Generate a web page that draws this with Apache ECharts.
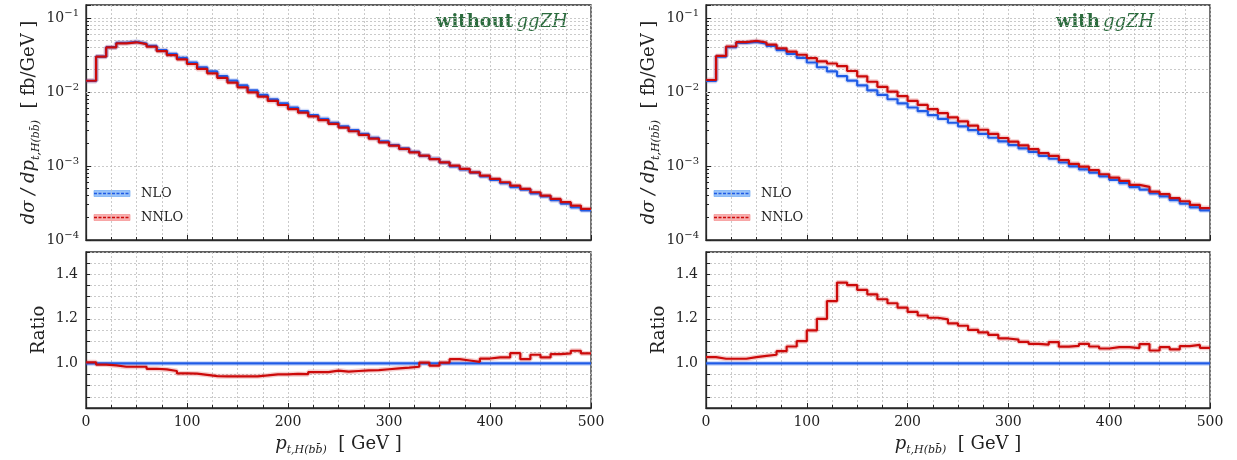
<!DOCTYPE html>
<html>
<head>
<meta charset="utf-8">
<script src="https://cdn.jsdelivr.net/npm/echarts@6/dist/echarts.min.js"></script>
<style>
html, body { margin: 0; background: #fff; }
#main { width: 1237px; height: 460px; }
</style>
</head>
<body>
<div id="main"></div>
<script>
// bin edges in GeV (10 GeV bins)
const binEdges = [0,10,20,30,40,50,60,70,80,90,100,110,120,130,140,150,160,170,180,190,200,
  210,220,230,240,250,260,270,280,290,300,310,320,330,340,350,360,370,380,390,400,
  410,420,430,440,450,460,470,480,490,500];

// dsigma/dpt [fb/GeV]
const nloXsec = [0.01413,0.03015,0.04036,0.04619,0.04772,0.04518,0.04201,0.03679,0.03271,0.02901,
  0.02505,0.0216,0.01898,0.01645,0.01423,0.01227,0.01051,0.00914,0.00798,0.00702,
  0.00618,0.00551,0.00487,0.00434,0.00384,0.00344,0.00305,0.00271,0.00241,0.00215,
  0.00192,0.00173,0.00155,0.001375,0.001253,0.001116,0.000991,0.0009,0.000816,0.000725,
  0.00065,0.000587,0.000519,0.000481,0.000425,0.000388,0.000345,0.00031,0.000276,0.000252];
const nnloNoGG = [0.0142,0.03,0.04,0.0455,0.047,0.0445,0.041,0.0358,0.0316,0.0277,
  0.0239,0.0205,0.0179,0.0155,0.0134,0.01156,0.0099,0.00865,0.00759,0.00668,
  0.00589,0.00525,0.00468,0.00417,0.00372,0.00331,0.00295,0.00263,0.00234,0.00209,
  0.00188,0.0017,0.00153,0.00138,0.00124,0.00112,0.00101,0.000912,0.000822,0.000741,
  0.000668,0.000603,0.000543,0.00049,0.000442,0.000398,0.000359,0.000324,0.000292,0.000263];
const nnloGG = [0.01453,0.03078,0.04121,0.04716,0.04906,0.04672,0.04365,0.03881,0.0352,0.03191,
  0.02876,0.02592,0.02429,0.02242,0.01922,0.01632,0.01377,0.01177,0.01013,0.00878,
  0.00761,0.00669,0.00587,0.0052,0.00453,0.00402,0.00351,0.00309,0.00272,0.00239,
  0.00213,0.0019,0.00169,0.00149,0.001373,0.0012,0.001069,0.000979,0.000878,0.000774,
  0.000697,0.00063,0.000555,0.000523,0.00045,0.000416,0.000367,0.000334,0.000299,0.00027];

// ratios to NLO
const ratioNLO = [1,1,1,1,1,1,1,1,1,1, 1,1,1,1,1,1,1,1,1,1, 1,1,1,1,1,1,1,1,1,1,
  1,1,1,1,1,1,1,1,1,1, 1,1,1,1,1,1,1,1,1,1];
const ratioNoGG = [1.005,0.995,0.991,0.985,0.985,0.985,0.976,0.973,0.966,0.955,
  0.954,0.949,0.943,0.942,0.942,0.942,0.942,0.946,0.951,0.951,
  0.953,0.952,0.961,0.961,0.968,0.963,0.966,0.969,0.970,0.974,
  0.978,0.981,0.985,1.004,0.990,1.004,1.019,1.013,1.007,1.022,
  1.027,1.027,1.046,1.019,1.039,1.027,1.042,1.045,1.057,1.045];
const ratioGG = [1.028,1.021,1.021,1.021,1.028,1.034,1.039,1.055,1.076,1.100,
  1.148,1.200,1.280,1.363,1.351,1.330,1.310,1.288,1.270,1.250,
  1.231,1.215,1.205,1.198,1.180,1.169,1.151,1.139,1.128,1.112,
  1.107,1.097,1.088,1.084,1.096,1.075,1.079,1.088,1.076,1.067,
  1.073,1.073,1.069,1.087,1.058,1.073,1.063,1.078,1.083,1.070];

// minor log grid positions
const logMinor = [2e-4,3e-4,4e-4,5e-4,6e-4,7e-4,8e-4,9e-4,
  2e-3,3e-3,4e-3,5e-3,6e-3,7e-3,8e-3,9e-3,
  2e-2,3e-2,4e-2,5e-2,6e-2,7e-2,8e-2,9e-2];
const ratioLabels = ['1.0', '1.2', '1.4'];

const BLUE = '#1f5be6', RED = '#cc0a0a', GREEN = '#2b6b3d';
const FONT = "'DejaVu Serif', serif";
const gridLine = { color: '#bdbdbd', width: 0.8, type: [2, 2] };

// histogram as step line: value of bin i held from edge i to edge i+1
const steps = vals => binEdges.map((x, i) => [x, vals[Math.min(i, vals.length - 1)]]);

const myChart = echarts.init(document.getElementById('main'));

const grids = [
  { left: 86, top: 5, width: 505, height: 235 },
  { left: 86, top: 252, width: 505, height: 156 },
  { left: 706, top: 5, width: 504, height: 235 },
  { left: 706, top: 252, width: 504, height: 156 }
].map(g => Object.assign(g, { show: true, borderColor: '#2a2a2a', borderWidth: 1.3 }));

const xAxisOf = (gi, labels) => ({
  type: 'value', gridIndex: gi, min: 0, max: 500, interval: 100,
  axisLine: { show: true, onZero: false, lineStyle: { color: '#2a2a2a', width: 1.3 } },
  axisTick: { show: true, inside: true, length: 5, lineStyle: { color: '#222' } },
  minorTick: { show: true, splitNumber: 4, length: 3, lineStyle: { color: '#222' } },
  splitLine: { show: true, lineStyle: gridLine },
  minorSplitLine: { show: true, lineStyle: gridLine },
  axisLabel: { show: labels, color: '#222', fontFamily: FONT, fontSize: 14, margin: 7 },
  name: labels ? '{i|p}{s|t,H(bb\u0304)}{r|  [ GeV ]}' : '',
  nameLocation: 'middle', nameGap: 24,
  nameTextStyle: {
    color: '#222', fontFamily: FONT,
    rich: {
      i: { fontFamily: FONT, fontStyle: 'italic', fontSize: 18, lineHeight: 24, color: '#222' },
      s: { fontFamily: FONT, fontStyle: 'italic', fontSize: 11, lineHeight: 12, verticalAlign: 'bottom', color: '#222' },
      r: { fontFamily: FONT, fontSize: 18, lineHeight: 24, color: '#222' }
    }
  }
});

const logAxisOf = gi => ({
  type: 'log', logBase: 10, gridIndex: gi, min: 1e-4, max: 0.15,
  axisLine: { show: true, onZero: false, lineStyle: { color: '#2a2a2a', width: 1.3 } },
  axisTick: { show: true, inside: true, length: 5, lineStyle: { color: '#222' } },
  splitLine: { show: true, lineStyle: gridLine },
  axisLabel: {
    color: '#222', margin: 7,
    formatter: v => {
      const e = Math.log10(v);
      if (Math.abs(e - Math.round(e)) > 1e-6) return '';
      return '{a|10}{e|\u2212' + Math.abs(Math.round(e)) + '}';
    },
    rich: {
      a: { fontFamily: FONT, fontSize: 14, lineHeight: 20, color: '#222' },
      e: { fontFamily: FONT, fontSize: 10, lineHeight: 12, verticalAlign: 'top', color: '#222' }
    }
  },
  name: '{i|d\u03c3 / dp}{s|t,H(bb\u0304)}{r|  [ fb/GeV ]}',
  nameLocation: 'middle', nameRotate: 90, nameGap: 44,
  nameTextStyle: {
    color: '#222',
    rich: {
      i: { fontFamily: FONT, fontStyle: 'italic', fontSize: 18, lineHeight: 26, color: '#222' },
      s: { fontFamily: FONT, fontStyle: 'italic', fontSize: 11, lineHeight: 12, verticalAlign: 'bottom', color: '#222' },
      r: { fontFamily: FONT, fontSize: 18, lineHeight: 26, color: '#222' }
    }
  }
});

const ratioAxisOf = gi => ({
  type: 'value', gridIndex: gi, min: 0.8, max: 1.5, interval: 0.05,
  axisLine: { show: true, onZero: false, lineStyle: { color: '#2a2a2a', width: 1.3 } },
  axisTick: { show: true, inside: true, length: 4, lineStyle: { color: '#222' } },
  splitLine: { show: true, lineStyle: gridLine },
  axisLabel: {
    color: '#222', fontFamily: FONT, fontSize: 14, margin: 8,
    formatter: v => {
      const s = v.toFixed(1);
      return (Math.abs(v - Number(s)) < 1e-6 && ratioLabels.includes(s)) ? s : '';
    }
  },
  name: 'Ratio', nameLocation: 'middle', nameRotate: 90, nameGap: 38,
  nameTextStyle: { color: '#222', fontFamily: FONT, fontSize: 18 }
});

// minor log grid lines and minor ticks on the left axis
const logMarks = () => ({
  silent: true, symbol: ['none', 'none'], animation: false, z: 1,
  label: { show: false },
  emphasis: { disabled: true },
  data: logMinor.map(v => ({ yAxis: v, lineStyle: gridLine }))
    .concat(logMinor.map(v => [
      { coord: [0, v], lineStyle: { color: '#222', width: 1, type: 'solid' } },
      { coord: [3, v] }
    ]))
});

const stepSeries = (gi, vals, color, extra) => ([
  {
    type: 'line', xAxisIndex: gi, yAxisIndex: gi, step: 'end', data: steps(vals),
    symbol: 'none', silent: true, z: 2,
    lineStyle: { color: color, width: 5, opacity: 0.2 }
  },
  Object.assign({
    type: 'line', xAxisIndex: gi, yAxisIndex: gi, step: 'end', data: steps(vals),
    symbol: 'none', silent: true, z: 3,
    lineStyle: { color: color, width: 2.2 }
  }, extra || {})
]);

const legendGraphic = (x0) => {
  const items = [
    { label: 'NLO', fill: 'rgba(120,175,245,0.75)', line: BLUE, y: 193.5 },
    { label: 'NNLO', fill: 'rgba(245,150,150,0.75)', line: RED, y: 217.5 }
  ];
  const els = [];
  items.forEach(it => {
    els.push({ type: 'rect', shape: { x: x0 + 8, y: it.y - 3, width: 36, height: 6 },
      style: { fill: it.fill, stroke: it.fill, lineWidth: 1 } });
    els.push({ type: 'line', shape: { x1: x0 + 8, y1: it.y, x2: x0 + 44, y2: it.y },
      style: { stroke: it.line, lineWidth: 1.5, lineDash: [3, 1.5] } });
    els.push({ type: 'text', x: x0 + 55, y: it.y,
      style: { text: it.label, fill: '#222', font: "13px 'DejaVu Serif', serif", verticalAlign: 'middle' } });
  });
  return els;
};

const titleGraphic = (x, word) => ({
  type: 'text', x: x, y: 22,
  style: {
    text: '{b|' + word + '} {i|ggZH}', verticalAlign: 'middle',
    rich: {
      b: { fontFamily: FONT, fontWeight: 'bold', fontSize: 18, fill: GREEN },
      i: { fontFamily: FONT, fontStyle: 'italic', fontSize: 18, fill: GREEN }
    }
  }
});

const series = []
  .concat(stepSeries(0, nloXsec, BLUE, { markLine: logMarks() }))
  .concat(stepSeries(0, nnloNoGG, RED))
  .concat(stepSeries(1, ratioNLO, BLUE))
  .concat(stepSeries(1, ratioNoGG, RED))
  .concat(stepSeries(2, nloXsec, BLUE, { markLine: logMarks() }))
  .concat(stepSeries(2, nnloGG, RED))
  .concat(stepSeries(3, ratioNLO, BLUE))
  .concat(stepSeries(3, ratioGG, RED));

myChart.setOption({
  backgroundColor: '#fff',
  animation: false,
  grid: grids,
  xAxis: [xAxisOf(0, false), xAxisOf(1, true), xAxisOf(2, false), xAxisOf(3, true)],
  yAxis: [logAxisOf(0), ratioAxisOf(1), logAxisOf(2), ratioAxisOf(3)],
  series: series,
  graphic: [titleGraphic(436, 'without'), titleGraphic(1056, 'with')]
    .concat(legendGraphic(86)).concat(legendGraphic(706))
});
</script>
</body>
</html>
